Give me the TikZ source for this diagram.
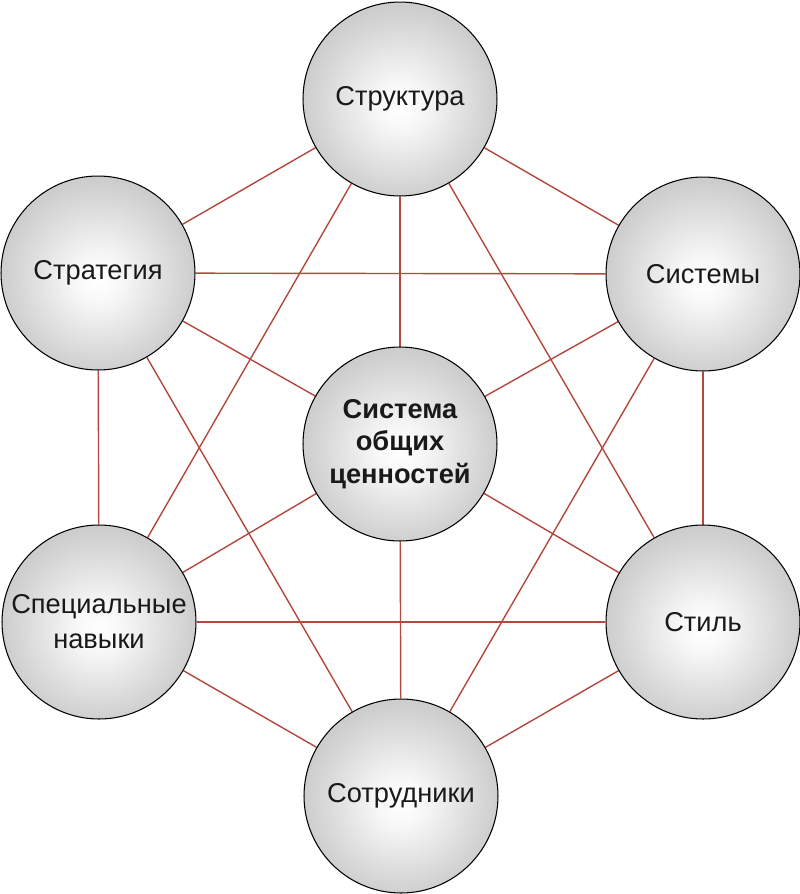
\documentclass[tikz,border=0pt]{standalone}
\usepackage{fontspec}
\setmainfont{Liberation Sans}
\usepackage{xcolor}
\usepackage{tikz}
\usetikzlibrary{backgrounds}
\definecolor{link}{HTML}{B3483E}
\definecolor{rim}{HTML}{CDCDCD}
\definecolor{mid}{HTML}{E3E3E3}
\pgfdeclareradialshading{sphere}{\pgfpoint{0bp}{-2bp}}{%
  color(0bp)=(white); color(6bp)=(white!97!black); color(15bp)=(mid); color(25bp)=(rim); color(50bp)=(rim)}

\begin{document}
\begin{tikzpicture}[x=0.02cm, y=-0.02cm,
  ball/.style={circle, draw=black, line width=0.6pt, shading=sphere, minimum size=3.88cm, inner sep=0pt,
    align=center, font=\fontsize{15.5}{18.5}\selectfont, text=black!90},
  tie/.style={draw=link, line width=0.8pt}]
\useasboundingbox (0,0) rectangle (800,894);
\node[ball] (str) at (400,99) {Структура};
\node[ball] (strat) at (98,273) {Стратегия};
\node[ball] (sys) at (703,274) {Системы};
\node[ball, font=\fontsize{15.5}{18.5}\selectfont\bfseries] (val) at (400,444) {Система\\ общих\\ ценностей};
\node[ball, font=\fontsize{15.5}{20}\selectfont] (skill) at (99,622) {Специальные\\ навыки};
\node[ball] (stil) at (703,622) {Стиль};
\node[ball] (sotr) at (401,796) {Сотрудники};
% outer pairs through the middle are left out, the middle links cover them
\begin{scope}[on background layer]
\foreach \a/\b in {str/strat, str/sys, str/val, str/skill, str/stil,
    strat/sys, strat/val, strat/skill, strat/sotr,
    sys/val, sys/stil, sys/sotr,
    val/skill, val/stil, val/sotr,
    skill/stil, skill/sotr, stil/sotr}
  \draw[tie] (\a) -- (\b);
\end{scope}
\end{tikzpicture}
\end{document}
